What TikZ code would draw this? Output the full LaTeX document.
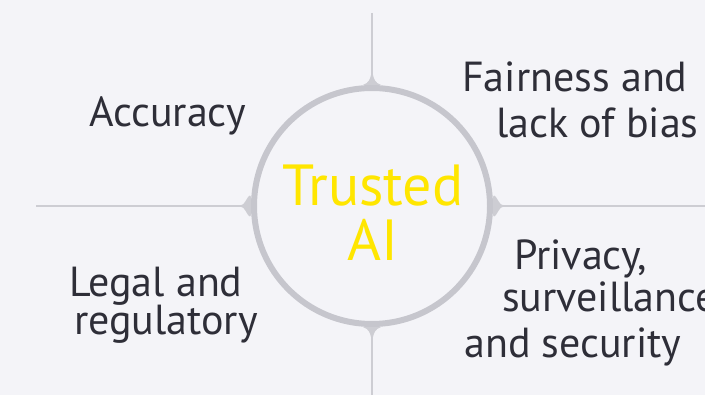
\documentclass[tikz,border=0pt]{standalone}
\usepackage{fontspec}
\setmainfont{PT Sans}
\usepackage{tikz}
\usepackage{xcolor}
\definecolor{eybg}{HTML}{F4F4F8}
\definecolor{eyring}{HTML}{C6C6CD}
\definecolor{eyline}{HTML}{CDCDD3}
\definecolor{eytext}{HTML}{2E2E38}
\definecolor{eyyellow}{HTML}{FFE600}

\tikzset{
  ring/.style={circle, draw=eyring, line width=6pt, minimum size=236pt, inner sep=0pt},
  spoke/.style={draw=eyline, line width=2pt},
  factor/.style={anchor=base west, align=left, inner sep=0pt, text=eytext,
                 font=\fontsize{42}{46}\selectfont},
  flare/.style={fill=eyline, draw=none}
}

\begin{document}
\begin{tikzpicture}[x=1pt, y=-1pt]
  \fill[eybg] (0,0) rectangle (705,395);
  \useasboundingbox (0,0) rectangle (705,395);

  \node[ring]   (core)  at (372,206) {};
  \node[inner sep=0pt, align=center, text=eyyellow,
        font=\fontsize{58}{55}\selectfont] (title) at (373,213) {Trusted\\AI};

  \coordinate (N) at (372,13);
  \coordinate (S) at (372,395);
  \coordinate (W) at (36,206);
  \coordinate (E) at (705,206);

  \path[spoke] (N) -- (core.north)
               (core.south) -- (S)
               (W) -- (core.west)
               (core.east) -- (E);

  % small flares where the spokes meet the ring
  \fill[flare] ([xshift=-9pt]core.north) .. controls +(6,-2) and +(-1,4) .. ([xshift=-1pt,yshift=10pt]core.north)
      -- ([xshift=1pt,yshift=10pt]core.north) .. controls +(1,4) and +(-6,-2) .. ([xshift=9pt]core.north) -- cycle;
  \fill[flare] ([xshift=-9pt]core.south) .. controls +(6,2) and +(-1,-4) .. ([xshift=-1pt,yshift=-10pt]core.south)
      -- ([xshift=1pt,yshift=-10pt]core.south) .. controls +(1,-4) and +(-6,2) .. ([xshift=9pt]core.south) -- cycle;
  \fill[flare] ([yshift=-9pt]core.west) .. controls +(-2,6) and +(4,-1) .. ([xshift=-10pt,yshift=-1pt]core.west)
      -- ([xshift=-10pt,yshift=1pt]core.west) .. controls +(4,1) and +(-2,-6) .. ([yshift=9pt]core.west) -- cycle;
  \fill[flare] ([yshift=-9pt]core.east) .. controls +(2,6) and +(-4,-1) .. ([xshift=10pt,yshift=-1pt]core.east)
      -- ([xshift=10pt,yshift=1pt]core.east) .. controls +(-4,1) and +(2,-6) .. ([yshift=9pt]core.east) -- cycle;

  % labels sit on the baseline of their last line
  \node[factor] (accuracy) at (89,127)  {Accuracy};
  \node[factor] (fairness) at (462,138) {Fairness and\\\hspace*{34pt}lack of bias};
  \node[factor] (privacy)  at (464,358) {\hspace*{50pt}Privacy,\\[-4pt]\hspace*{38pt}surveillance\\and security};
  \node[factor] (legal)    at (69,335)  {Legal and\\[-8pt]\hspace*{5pt}regulatory};
\end{tikzpicture}
\end{document}
